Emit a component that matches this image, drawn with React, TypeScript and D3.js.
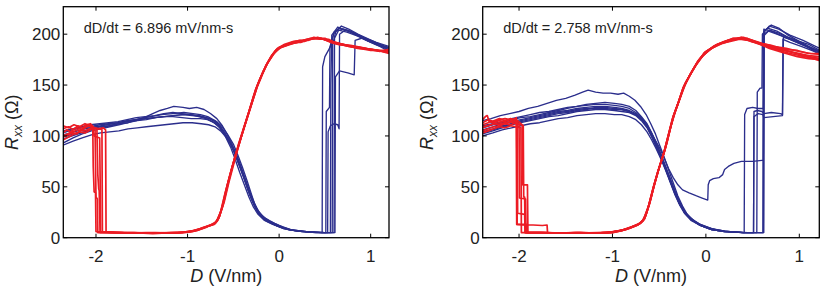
import React from 'react';
import * as d3 from 'd3';

type Pt = [number, number];

const xTicks = [-2, -1, 0, 1];
const yTicks = [0, 50, 100, 150, 200];
const leftRate = 'dD/dt = 6.896 mV/nm-s';
const rightRate = 'dD/dt = 2.758 mV/nm-s';

// ---------- Left panel (6.896 mV/nm-s) : blue sweeps ----------
const lb1: Pt[] = [[-2.36,99],[-2.28,101],[-2.2,103],[-2.12,104],[-2.04,107],[-1.95,108],[-1.85,110],[-1.75,112],[-1.65,113],[-1.55,115],[-1.45,116],[-1.35,118],[-1.25,119],[-1.15,120],[-1.05,121],[-0.95,120],[-0.85,119],[-0.76,117],[-0.68,114],[-0.62,109],[-0.56,101],[-0.5,92],[-0.45,81],[-0.4,69],[-0.35,56],[-0.3,42],[-0.26,31],[-0.22,24],[-0.15,18],[-0.08,14],[0,11],[0.1,8],[0.2,6.5],[0.35,5.5],[0.5,5],[0.58,5],[0.585,190],[0.62,203],[0.7,205],[0.78,203],[0.88,198],[0.98,194],[1.1,190],[1.2,186]];
const lb2: Pt[] = [[-2.36,93],[-2.25,98],[-2.15,102],[-2.05,105],[-1.95,107],[-1.85,109],[-1.75,111],[-1.65,113],[-1.55,116],[-1.45,119],[-1.38,122],[-1.3,125],[-1.22,127],[-1.15,129],[-1.05,128],[-0.98,127],[-0.9,128],[-0.82,126],[-0.75,122],[-0.68,117],[-0.62,110],[-0.57,102],[-0.52,93],[-0.47,83],[-0.42,71],[-0.37,58],[-0.32,45],[-0.27,34],[-0.22,25],[-0.15,19],[-0.05,14],[0.05,10],[0.15,7.5],[0.3,6],[0.47,5],[0.475,168],[0.5,178],[0.55,186],[0.6,201],[0.68,208],[0.76,205],[0.86,200],[0.96,196],[1.08,191],[1.2,184]];
const lb3: Pt[] = [[-2.36,91],[-2.25,95],[-2.15,98],[-2.05,101],[-1.95,103],[-1.85,104],[-1.75,105],[-1.65,107],[-1.55,108],[-1.45,109],[-1.35,110],[-1.25,111],[-1.15,112],[-1.05,113],[-0.95,113],[-0.85,112],[-0.77,111],[-0.7,109],[-0.64,105],[-0.58,99],[-0.52,91],[-0.47,80],[-0.42,68],[-0.37,55],[-0.32,42],[-0.27,31],[-0.22,23],[-0.15,17],[-0.06,13],[0.05,9],[0.2,6.5],[0.4,5],[0.53,5],[0.535,104],[0.56,110],[0.6,112],[0.64,111],[0.655,107],[0.66,200],[0.72,204],[0.82,201],[0.94,196],[1.06,191],[1.2,187]];
const lb4: Pt[] = [[-2.36,101],[-2.24,104],[-2.12,107],[-2.0,109],[-1.88,111],[-1.76,113],[-1.64,115],[-1.52,117],[-1.4,119],[-1.28,121],[-1.16,122],[-1.04,123],[-0.94,122],[-0.86,121],[-0.78,119],[-0.7,115],[-0.63,108],[-0.57,99],[-0.51,88],[-0.46,78],[-0.41,66],[-0.36,53],[-0.31,40],[-0.26,30],[-0.21,22],[-0.13,16],[-0.03,12],[0.1,8],[0.25,6],[0.45,5],[0.61,5],[0.615,158],[0.66,164],[0.75,162],[0.82,160],[0.83,194],[0.9,196],[1.0,192],[1.1,188],[1.2,183]];
const lb5: Pt[] = [[-2.36,103],[-2.26,106],[-2.16,108],[-2.06,109],[-1.96,111],[-1.86,112],[-1.76,113],[-1.66,115],[-1.56,116],[-1.46,117],[-1.36,118],[-1.26,119],[-1.16,119],[-1.06,118],[-0.96,117],[-0.86,117],[-0.78,116],[-0.71,113],[-0.65,108],[-0.59,100],[-0.53,89],[-0.48,77],[-0.43,64],[-0.38,52],[-0.33,40],[-0.28,30],[-0.23,23],[-0.16,17],[-0.07,13],[0.05,9],[0.2,6.5],[0.4,5],[0.51,5],[0.515,124],[0.55,128],[0.555,186],[0.6,202],[0.66,206],[0.74,204],[0.84,199],[0.96,194],[1.08,189],[1.2,185]];
const lb6: Pt[] = [[-2.36,97],[-2.26,100],[-2.16,103],[-2.06,106],[-1.96,109],[-1.86,110],[-1.76,112],[-1.66,114],[-1.56,115],[-1.46,117],[-1.36,118],[-1.26,119],[-1.16,120],[-1.06,121],[-0.96,121],[-0.88,119],[-0.8,117],[-0.73,114],[-0.66,110],[-0.6,103],[-0.54,94],[-0.49,84],[-0.44,72],[-0.39,60],[-0.34,47],[-0.29,36],[-0.24,27],[-0.18,20],[-0.1,15],[0,11],[0.12,8],[0.3,6],[0.5,5],[0.56,5],[0.565,150],[0.575,199],[0.64,207],[0.72,204],[0.82,201],[0.94,196],[1.06,192],[1.2,188]];
const lb7: Pt[] = [[-2.36,105],[-2.26,107],[-2.16,109],[-2.06,111],[-1.96,112],[-1.86,113],[-1.76,114],[-1.66,116],[-1.56,118],[-1.46,119],[-1.36,120],[-1.26,122],[-1.16,123],[-1.06,122],[-0.96,121],[-0.87,120],[-0.79,118],[-0.72,115],[-0.66,111],[-0.6,104],[-0.54,95],[-0.49,85],[-0.44,73],[-0.39,61],[-0.34,48],[-0.29,37],[-0.24,28],[-0.18,21],[-0.1,16],[0,12],[0.12,8],[0.3,6],[0.5,5],[0.6,5],[0.605,196],[0.65,204],[0.74,202],[0.86,198],[0.98,193],[1.1,189],[1.2,186]];

// ---------- Left panel : red sweeps ----------
const lr1: Pt[] = [[-2.36,103],[-2.32,106],[-2.28,104],[-2.24,107],[-2.2,108],[-2.15,106],[-2.1,109],[-2.06,110],[-2.02,108],[-1.99,107],[-1.98,62],[-1.97,48],[-1.965,46],[-1.955,5],[-1.8,5],[-1.6,4.5],[-1.4,4.5],[-1.2,4.5],[-1.05,5],[-0.95,6],[-0.87,8],[-0.78,11],[-0.71,13],[-0.67,17],[-0.62,30],[-0.57,50],[-0.52,67],[-0.47,83],[-0.41,100],[-0.36,115],[-0.3,132],[-0.25,147],[-0.19,160],[-0.14,170],[-0.08,179],[-0.03,185],[0.05,189],[0.15,191],[0.25,193],[0.35,195],[0.45,196],[0.55,193],[0.65,191],[0.8,188],[1.0,185],[1.2,182]];
const lr2: Pt[] = [[-2.36,99],[-2.31,101],[-2.26,103],[-2.21,102],[-2.16,106],[-2.11,111],[-2.06,112],[-2.03,109],[-2.01,105],[-2.0,40],[-1.985,38],[-1.98,5],[-1.75,5],[-1.55,4.5],[-1.35,5],[-1.15,4.5],[-1.0,5.5],[-0.9,7],[-0.8,10],[-0.72,14],[-0.68,16],[-0.63,28],[-0.58,47],[-0.53,64],[-0.48,80],[-0.42,98],[-0.37,112],[-0.31,130],[-0.26,145],[-0.2,158],[-0.15,168],[-0.09,178],[-0.04,184],[0.04,188],[0.14,192],[0.24,192],[0.34,196],[0.44,195],[0.54,195],[0.64,190],[0.78,189],[0.95,186],[1.1,183],[1.2,185]];
const lr3: Pt[] = [[-2.36,107],[-2.3,109],[-2.25,106],[-2.2,110],[-2.14,108],[-2.08,111],[-2.02,108],[-1.96,107],[-1.935,106],[-1.93,6],[-1.78,5],[-1.58,5],[-1.38,4],[-1.18,5],[-1.02,5.5],[-0.92,7],[-0.83,10],[-0.75,12],[-0.69,15],[-0.64,25],[-0.59,44],[-0.54,61],[-0.49,77],[-0.44,93],[-0.38,110],[-0.33,124],[-0.28,139],[-0.22,154],[-0.17,164],[-0.11,174],[-0.06,181],[0.02,187],[0.12,190],[0.22,194],[0.32,194],[0.42,197],[0.52,194],[0.62,192],[0.76,188],[0.92,186],[1.08,184],[1.2,181]];
const lr4: Pt[] = [[-2.36,100],[-2.28,103],[-2.2,106],[-2.12,105],[-2.05,108],[-1.98,107],[-1.92,108],[-1.895,106],[-1.89,6],[-1.7,5],[-1.5,4.5],[-1.3,4.5],[-1.1,5],[-0.98,6],[-0.88,8],[-0.79,11],[-0.72,13],[-0.66,19],[-0.61,33],[-0.56,53],[-0.51,70],[-0.46,86],[-0.4,103],[-0.35,118],[-0.29,135],[-0.24,149],[-0.18,162],[-0.13,171],[-0.07,180],[-0.02,186],[0.06,190],[0.16,193],[0.26,194],[0.36,196],[0.46,196],[0.56,192],[0.66,190],[0.82,187],[1.0,184],[1.2,184]];
const lr5: Pt[] = [[-2.36,96],[-2.3,99],[-2.24,102],[-2.18,104],[-2.12,103],[-2.06,106],[-2.035,108],[-2.03,70],[-2.02,45],[-2.005,44],[-2.0,6],[-1.85,5],[-1.65,4.5],[-1.45,5],[-1.25,4.5],[-1.08,5],[-0.96,6.5],[-0.86,9],[-0.77,12],[-0.7,14],[-0.65,21],[-0.6,37],[-0.55,56],[-0.5,73],[-0.45,88],[-0.39,106],[-0.34,120],[-0.28,137],[-0.23,151],[-0.17,164],[-0.12,173],[-0.06,181],[0,187],[0.1,190],[0.2,192],[0.3,195],[0.4,196],[0.5,196],[0.6,191],[0.72,189],[0.88,187],[1.04,184],[1.2,183]];
const lr6: Pt[] = [[-2.36,110],[-2.3,108],[-2.24,111],[-2.18,109],[-2.12,112],[-2.07,110],[-2.04,108],[-2.02,100],[-1.96,98],[-1.955,60],[-1.95,6],[-1.8,5],[-1.6,5],[-1.4,4.5],[-1.2,5],[-1.04,5.5],[-0.93,7],[-0.84,9],[-0.76,12],[-0.7,14],[-0.655,20],[-0.6,35],[-0.55,54],[-0.5,71],[-0.455,86],[-0.4,103],[-0.35,117],[-0.29,134],[-0.24,148],[-0.18,161],[-0.13,171],[-0.07,179],[-0.01,186],[0.08,189],[0.18,193],[0.28,193],[0.38,197],[0.48,195],[0.58,192],[0.7,190],[0.86,186],[1.02,185],[1.2,182]];

// ---------- Right panel (2.758 mV/nm-s) : blue sweeps ----------
const rb1: Pt[] = [[-2.39,115],[-2.3,117],[-2.2,120],[-2.1,122],[-2.0,124],[-1.9,127],[-1.8,129],[-1.7,132],[-1.6,135],[-1.5,137],[-1.4,140],[-1.32,143],[-1.26,145],[-1.18,143],[-1.1,142],[-1.02,142],[-0.94,141],[-0.88,142],[-0.82,139],[-0.76,135],[-0.7,129],[-0.64,121],[-0.59,112],[-0.54,102],[-0.5,92],[-0.45,80],[-0.4,67],[-0.35,54],[-0.3,41],[-0.25,31],[-0.2,23],[-0.12,16],[-0.02,11],[0.1,8],[0.25,6],[0.45,5],[0.62,5],[0.625,203],[0.7,209],[0.78,206],[0.88,199],[1.0,193],[1.1,190],[1.22,184]];
const rb2: Pt[] = [[-2.39,104],[-2.28,107],[-2.18,110],[-2.08,112],[-1.98,115],[-1.88,117],[-1.78,119],[-1.68,121],[-1.58,123],[-1.48,124],[-1.38,126],[-1.28,127],[-1.18,127],[-1.08,127],[-0.98,126],[-0.9,126],[-0.82,124],[-0.75,121],[-0.68,116],[-0.62,109],[-0.56,99],[-0.5,89],[-0.45,79],[-0.4,68],[-0.35,59],[-0.3,52],[-0.25,47],[-0.18,44],[-0.1,41],[-0.04,39],[0.02,37],[0.025,52],[0.04,56],[0.08,58],[0.14,59],[0.18,62],[0.2,67],[0.24,70],[0.3,73],[0.38,75],[0.5,75],[0.6,76],[0.615,76],[0.62,205],[0.7,203],[0.82,198],[0.95,193],[1.08,188],[1.22,182]];
const rb3: Pt[] = [[-2.39,100],[-2.28,103],[-2.18,106],[-2.08,108],[-1.98,110],[-1.88,112],[-1.78,113],[-1.68,115],[-1.58,117],[-1.48,118],[-1.38,120],[-1.28,121],[-1.18,122],[-1.08,122],[-0.98,121],[-0.9,121],[-0.82,119],[-0.75,116],[-0.69,111],[-0.63,104],[-0.58,96],[-0.53,87],[-0.48,77],[-0.43,66],[-0.38,54],[-0.33,42],[-0.28,32],[-0.23,24],[-0.16,17],[-0.06,12],[0.06,8],[0.2,6],[0.41,5],[0.415,121],[0.44,127],[0.5,128],[0.56,127],[0.615,127],[0.62,200],[0.68,204],[0.78,201],[0.9,196],[1.04,190],[1.22,180]];
const rb4: Pt[] = [[-2.39,106],[-2.28,109],[-2.18,112],[-2.08,114],[-1.98,116],[-1.88,118],[-1.78,120],[-1.68,122],[-1.58,124],[-1.48,125],[-1.38,127],[-1.28,128],[-1.18,129],[-1.08,129],[-0.98,128],[-0.9,127],[-0.82,125],[-0.75,122],[-0.69,117],[-0.63,110],[-0.58,101],[-0.53,91],[-0.48,80],[-0.43,68],[-0.38,56],[-0.33,44],[-0.28,33],[-0.23,25],[-0.16,18],[-0.06,12],[0.06,8],[0.2,6],[0.4,5],[0.51,5],[0.515,119],[0.56,122],[0.61,121],[0.62,118],[0.72,119],[0.82,120],[0.83,197],[0.9,195],[1.02,190],[1.12,186],[1.22,182]];
const rb5: Pt[] = [[-2.39,108],[-2.28,111],[-2.18,113],[-2.08,116],[-1.98,118],[-1.88,119],[-1.78,121],[-1.68,123],[-1.58,125],[-1.48,127],[-1.38,129],[-1.28,130],[-1.18,131],[-1.08,131],[-0.98,130],[-0.9,129],[-0.82,127],[-0.75,123],[-0.69,118],[-0.63,111],[-0.58,102],[-0.53,92],[-0.48,81],[-0.43,69],[-0.38,57],[-0.33,45],[-0.28,34],[-0.23,26],[-0.16,18],[-0.06,13],[0.06,9],[0.2,6.5],[0.4,5],[0.545,5],[0.55,143],[0.58,147],[0.6,147],[0.605,200],[0.66,206],[0.76,203],[0.88,197],[1.0,193],[1.12,187],[1.22,183]];
const rb6: Pt[] = [[-2.39,102],[-2.28,105],[-2.18,108],[-2.08,111],[-1.98,113],[-1.88,115],[-1.78,117],[-1.68,119],[-1.58,120],[-1.48,122],[-1.38,124],[-1.28,125],[-1.18,126],[-1.08,126],[-0.98,125],[-0.9,124],[-0.82,123],[-0.75,120],[-0.69,115],[-0.63,108],[-0.58,99],[-0.53,89],[-0.48,78],[-0.43,67],[-0.38,55],[-0.33,43],[-0.28,33],[-0.23,25],[-0.16,18],[-0.06,12],[0.06,8],[0.2,6],[0.4,5],[0.51,5],[0.515,124],[0.55,125],[0.6,124],[0.62,122],[0.7,123],[0.8,122],[0.82,121],[0.825,195],[0.9,192],[1.02,188],[1.22,181]];
const rb7: Pt[] = [[-2.39,110],[-2.28,112],[-2.18,114],[-2.08,117],[-1.98,119],[-1.88,121],[-1.78,123],[-1.68,124],[-1.58,126],[-1.48,128],[-1.38,129],[-1.28,131],[-1.18,132],[-1.08,133],[-0.98,132],[-0.9,131],[-0.82,129],[-0.75,125],[-0.69,119],[-0.63,112],[-0.58,103],[-0.53,93],[-0.48,82],[-0.43,70],[-0.38,58],[-0.33,46],[-0.28,35],[-0.23,26],[-0.16,19],[-0.06,13],[0.06,9],[0.2,6.5],[0.4,5],[0.615,5],[0.62,202],[0.68,208],[0.78,205],[0.9,199],[1.04,194],[1.22,186]];
const rb8: Pt[] = [[-2.39,103],[-2.28,106],[-2.18,109],[-2.08,112],[-1.98,114],[-1.88,116],[-1.78,118],[-1.68,120],[-1.58,122],[-1.48,123],[-1.38,125],[-1.28,126],[-1.18,128],[-1.08,128],[-0.98,127],[-0.9,126],[-0.82,124],[-0.75,121],[-0.69,116],[-0.63,109],[-0.58,100],[-0.53,90],[-0.48,79],[-0.43,67],[-0.38,55],[-0.33,43],[-0.28,33],[-0.23,25],[-0.16,18],[-0.06,12],[0.06,8],[0.2,6],[0.4,5],[0.61,5],[0.615,198],[0.67,203],[0.76,200],[0.88,196],[1.02,191],[1.22,183]];

// ---------- Right panel : red sweeps ----------
const rr1: Pt[] = [[-2.39,116],[-2.36,119],[-2.34,120],[-2.32,114],[-2.27,113],[-2.22,115],[-2.16,114],[-2.1,116],[-2.05,115],[-2.03,113],[-2.025,13],[-1.95,12.5],[-1.85,12.5],[-1.75,12],[-1.7,12.5],[-1.695,5],[-1.55,4.5],[-1.35,4.5],[-1.15,4.5],[-1.0,5],[-0.9,7],[-0.8,10],[-0.72,13],[-0.66,18],[-0.61,32],[-0.56,50],[-0.51,66],[-0.45,83],[-0.4,101],[-0.35,119],[-0.29,134],[-0.24,148],[-0.17,160],[-0.1,171],[-0.02,181],[0.08,188],[0.18,192],[0.28,195],[0.38,196],[0.48,193],[0.58,190],[0.7,187],[0.85,184],[1.0,181],[1.1,179],[1.22,178]];
const rr2: Pt[] = [[-2.39,108],[-2.33,110],[-2.27,112],[-2.21,111],[-2.15,113],[-2.09,114],[-2.03,112],[-2.0,111],[-1.995,39],[-1.93,38],[-1.925,5],[-1.75,5],[-1.55,4.5],[-1.35,5],[-1.15,4.5],[-1.02,5.5],[-0.92,7],[-0.82,9],[-0.74,12],[-0.675,16],[-0.62,29],[-0.57,47],[-0.52,63],[-0.46,80],[-0.41,98],[-0.36,116],[-0.3,131],[-0.25,145],[-0.18,158],[-0.11,169],[-0.03,179],[0.06,186],[0.16,191],[0.26,193],[0.36,195],[0.46,194],[0.56,191],[0.68,186],[0.82,182],[0.98,178],[1.1,176],[1.22,175]];
const rr3: Pt[] = [[-2.39,105],[-2.33,107],[-2.27,109],[-2.21,110],[-2.15,112],[-2.09,111],[-2.03,113],[-1.98,111],[-1.965,110],[-1.96,52],[-1.91,52],[-1.905,5],[-1.72,5],[-1.52,4.5],[-1.32,4.5],[-1.12,5],[-0.98,6],[-0.88,8],[-0.79,11],[-0.71,14],[-0.655,19],[-0.6,34],[-0.55,53],[-0.5,69],[-0.44,86],[-0.39,104],[-0.34,121],[-0.28,137],[-0.23,150],[-0.16,162],[-0.09,173],[-0.01,182],[0.1,189],[0.2,193],[0.3,196],[0.4,197],[0.5,194],[0.6,191],[0.72,188],[0.86,186],[1.0,183],[1.12,181],[1.22,180]];
const rr4: Pt[] = [[-2.39,111],[-2.33,113],[-2.27,115],[-2.21,117],[-2.15,115],[-2.09,117],[-2.04,115],[-2.02,114],[-2.015,24],[-1.94,23],[-1.935,5],[-1.78,5],[-1.58,4.5],[-1.38,5],[-1.18,4.5],[-1.04,5],[-0.94,6.5],[-0.84,9],[-0.76,12],[-0.69,15],[-0.635,24],[-0.58,42],[-0.53,59],[-0.48,75],[-0.42,92],[-0.37,111],[-0.32,126],[-0.26,141],[-0.21,153],[-0.14,165],[-0.06,176],[0.04,185],[0.14,190],[0.24,194],[0.34,195],[0.44,196],[0.54,192],[0.64,189],[0.76,186],[0.9,183],[1.04,179],[1.22,176]];
const rr5: Pt[] = [[-2.39,103],[-2.33,105],[-2.27,107],[-2.21,109],[-2.15,108],[-2.09,110],[-2.03,109],[-1.98,108],[-1.975,5],[-1.8,5],[-1.6,4.5],[-1.4,5],[-1.2,4.5],[-1.06,5],[-0.95,6.5],[-0.85,8],[-0.77,11],[-0.7,14],[-0.645,21],[-0.59,38],[-0.54,56],[-0.49,72],[-0.43,89],[-0.38,108],[-0.33,124],[-0.27,139],[-0.22,152],[-0.15,163],[-0.08,174],[0.0,183],[0.12,190],[0.22,193],[0.32,195],[0.42,195],[0.52,193],[0.62,190],[0.74,186],[0.88,183],[1.02,180],[1.12,177],[1.22,174]];
const rr6: Pt[] = [[-2.39,109],[-2.3,111],[-2.22,113],[-2.14,112],[-2.08,114],[-2.03,116],[-1.98,112],[-1.955,110],[-1.95,40],[-1.94,40],[-1.935,5],[-1.76,5],[-1.56,4.5],[-1.36,4.5],[-1.16,5],[-1.01,5.5],[-0.91,7],[-0.81,10],[-0.73,13],[-0.67,17],[-0.615,31],[-0.565,49],[-0.515,65],[-0.455,82],[-0.405,100],[-0.355,118],[-0.295,133],[-0.245,147],[-0.175,159],[-0.105,170],[-0.025,180],[0.08,187],[0.18,191],[0.28,194],[0.38,197],[0.48,193],[0.58,191],[0.7,189],[0.84,185],[0.98,184],[1.1,181],[1.22,181]];
const rr7: Pt[] = [[-2.39,113],[-2.33,116],[-2.27,114],[-2.21,116],[-2.15,117],[-2.09,116],[-2.04,117],[-2.03,118],[-2.025,112],[-2.02,13],[-1.92,13],[-1.915,5],[-1.74,5],[-1.54,4.5],[-1.34,5],[-1.14,4.5],[-1.0,5],[-0.9,7],[-0.8,10],[-0.72,13],[-0.66,18],[-0.605,33],[-0.555,51],[-0.505,67],[-0.445,84],[-0.395,102],[-0.345,120],[-0.285,135],[-0.235,149],[-0.165,161],[-0.095,172],[-0.015,182],[0.09,188],[0.19,192],[0.29,196],[0.39,195],[0.49,194],[0.59,190],[0.71,186],[0.86,182],[1.0,179],[1.12,177],[1.22,176]];

const leftBlue: Pt[][] = [lb1, lb2, lb3, lb4, lb5, lb6, lb7];
const leftRed: Pt[][] = [lr1, lr2, lr3, lr4, lr5, lr6];
const rightBlue: Pt[][] = [rb1, rb2, rb3, rb4, rb5, rb6, rb7, rb8];
const rightRed: Pt[][] = [rr1, rr2, rr3, rr4, rr5, rr6, rr7];

const BLUE = '#2b2e8c';
const RED = '#ec1c24';
const FONT = '"Liberation Sans", Arial, Helvetica, sans-serif';
const TOP = 6.7;
const BOTTOM = 237.7;

type PanelProps = {
  id: string;
  x0: number;
  x1: number;
  xDomain: [number, number];
  blue: Pt[][];
  red: Pt[][];
  rate: string;
  labelX: number;
};

function Panel({ id, x0, x1, xDomain, blue, red, rate, labelX }: PanelProps) {
  const xs = d3.scaleLinear().domain(xDomain).range([x0, x1]);
  const ys = d3.scaleLinear().domain([0, 227]).range([BOTTOM, TOP]);
  const line = d3.line<Pt>().x((d) => xs(d[0])).y((d) => ys(d[1]));
  const tl = 4;
  const cx = (x0 + x1) / 2;
  const cy = (TOP + BOTTOM) / 2;
  return (
    <g>
      <defs>
        <clipPath id={id}>
          <rect x={x0} y={TOP} width={x1 - x0} height={BOTTOM - TOP} />
        </clipPath>
      </defs>
      <g clipPath={`url(#${id})`} fill="none" strokeLinejoin="round">
        {blue.map((t, i) => (
          <path key={'b' + i} d={line(t) || ''} stroke={BLUE} strokeWidth={1.35} />
        ))}
        {red.map((t, i) => (
          <path key={'r' + i} d={line(t) || ''} stroke={RED} strokeWidth={1.7} />
        ))}
      </g>
      <rect x={x0} y={TOP} width={x1 - x0} height={BOTTOM - TOP} fill="none" stroke="#000" strokeWidth={1.3} />
      {xTicks.map((v) => (
        <g key={'xt' + v}>
          <line x1={xs(v)} x2={xs(v)} y1={BOTTOM} y2={BOTTOM - tl} stroke="#000" strokeWidth={1} />
          <line x1={xs(v)} x2={xs(v)} y1={TOP} y2={TOP + tl} stroke="#000" strokeWidth={1} />
          <text x={xs(v)} y={262} textAnchor="middle" fontSize={17} fontFamily={FONT} fill="#222">
            {v < 0 ? '-' + Math.abs(v) : String(v)}
          </text>
        </g>
      ))}
      {yTicks.map((v) => (
        <g key={'yt' + v}>
          <line x1={x0} x2={x0 + tl} y1={ys(v)} y2={ys(v)} stroke="#000" strokeWidth={1} />
          <line x1={x1} x2={x1 - tl} y1={ys(v)} y2={ys(v)} stroke="#000" strokeWidth={1} />
          <text x={x0 - 3} y={ys(v) + 6} textAnchor="end" fontSize={17} fontFamily={FONT} fill="#222">
            {v}
          </text>
        </g>
      ))}
      <text x={x0 + 20.5} y={32.7} fontSize={14.5} fontFamily={FONT} fill="#222">
        {rate}
      </text>
      <text x={cx} y={282} textAnchor="middle" fontSize={18} fontFamily={FONT} fill="#222">
        <tspan fontStyle="italic">D</tspan>
        <tspan> (V/nm)</tspan>
      </text>
      <text transform={`translate(${labelX},${cy}) rotate(-90)`} textAnchor="middle" fontSize={18} fontFamily={FONT} fill="#222">
        <tspan fontStyle="italic">R</tspan>
        <tspan fontStyle="italic" fontSize={12} dy={4}>xx</tspan>
        <tspan dy={-4}> (Ω)</tspan>
      </text>
    </g>
  );
}

export default function App() {
  return (
    <svg width={830} height={290} style={{ position: 'absolute', left: 0, top: 0, background: '#fff' }}>
      <Panel id="clipL" x0={63.3} x1={389} xDomain={[-2.357, 1.2]} blue={leftBlue} red={leftRed} rate={leftRate} labelX={18} />
      <Panel id="clipR" x0={482.7} x1={819.3} xDomain={[-2.389, 1.214]} blue={rightBlue} red={rightRed} rate={rightRate} labelX={433} />
    </svg>
  );
}
